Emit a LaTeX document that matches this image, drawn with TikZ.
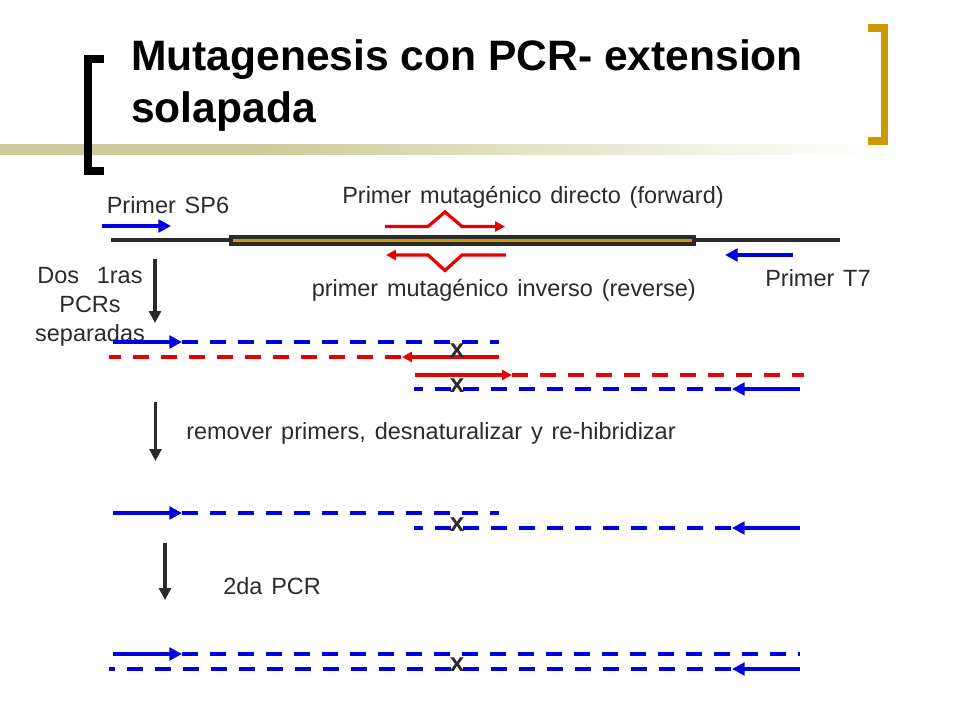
\documentclass[tikz,border=0pt]{standalone}
\usepackage{fontspec}
\setmainfont{Liberation Sans}
\newfontfamily\bodyfont[WordSpace=1.35]{Liberation Sans}
\usepackage{xcolor}
\usetikzlibrary{arrows.meta}
\definecolor{ink}{HTML}{2B2B2B}
\definecolor{gold}{HTML}{CC9900}
\definecolor{olive}{HTML}{CCCC99}
\definecolor{dnablue}{HTML}{0000E0}
\definecolor{dnared}{HTML}{E60000}
\pgfdeclarehorizontalshading{barfade}{100bp}{color(0bp)=(olive); color(40bp)=(olive); color(75bp)=(white); color(100bp)=(white)}
\tikzset{
  tip/.style={-{Triangle[length=8.5pt,width=8.5pt]}},
  bline/.style={draw=dnablue, line width=3pt, -{Triangle[length=9pt,width=9pt]}},
  rline/.style={draw=dnared, line width=2.3pt, -{Triangle[length=7pt,width=7pt]}},
  bdash/.style={draw=dnablue, line width=3pt, dash pattern=on 11.38pt off 8.54pt},
  rdash/.style={draw=dnared, line width=3pt, dash pattern=on 11.38pt off 8.54pt},
  down/.style={draw=ink, line width=2.6pt, tip},
  strand/.style={draw=ink, line width=2.85pt},
  lbl/.style={text=ink, font=\bodyfont\fontsize{16.7}{20}\selectfont, inner sep=0pt, anchor=base west},
  titletext/.style={anchor=base west, inner sep=0pt, font=\fontsize{30.27}{37}\selectfont\bfseries},
  xmark/.style={text=ink, font=\fontsize{18.5}{20}\selectfont\bfseries, inner sep=0pt}
}
\begin{document}
\begin{tikzpicture}[x=0.025cm,y=-0.025cm]
  \fill[white] (0,0) rectangle (960,720);
  \useasboundingbox (0,0) rectangle (960,720);

  \fill[shading=barfade] (0,145) rectangle (870,155);
  \draw[line width=5.5pt] (104,59) -- (88,59) -- (88,171) -- (104,171);
  \draw[gold, line width=5.5pt] (868,28) -- (884.5,28) -- (884.5,141) -- (868,141);

  \node[titletext] (title1) at (131,71) {Mutagenesis con PCR- extension};
  \node[titletext] (title2) at (131,123) {solapada};

  \draw[strand] (111,240) -- (840,240);
  \draw[draw=ink, line width=3pt, fill=gold] (231,237) rectangle (694,244);

  \draw[bline] (102,226) -- (171,226);
  \draw[bline] (793,255) -- (725,255);
  \draw[rline] (385,226.5) -- (428,226.5) -- (445,212) -- (462,226.5) -- (505,226.5);
  \draw[rline] (506,255) -- (462,255) -- (445,270.5) -- (428,255) -- (386,255);

  \node[lbl] (sp6) at (106.5,213.5) {Primer SP6};
  \node[lbl] (fwd) at (342,204) {Primer mutagénico directo (forward)};
  \node[lbl] (rev) at (311.5,296.5) {primer mutagénico inverso (reverse)};
  \node[lbl] (t7) at (765,287) {Primer T7};
  \node[lbl, anchor=base] (dos) at (90,284) {Dos\ \ 1ras};
  \node[lbl, anchor=base] (pcrs) at (90,313) {PCRs};
  \node[lbl, anchor=base] (sep) at (90,342) {separadas};
  \node[lbl] (remover) at (186,440) {remover primers, desnaturalizar y re-hibridizar};
  \node[lbl] (segunda) at (223,595) {2da PCR};

  \draw[down] (155,259) -- (155,323);
  \draw[down] (155.5,402) -- (155.5,461);
  \draw[down] (165,543) -- (165,600);

  \draw[bline] (113,342) -- (182,342);
  \draw[bdash] (182,342) -- (499,342);
  \draw[rdash] (401,357) -- (109,357);
  \draw[rline] (499,357) -- (402,357);
  \draw[rline] (415,375) -- (512,375);
  \draw[rdash] (512,375) -- (804,375);
  \draw[bline] (800,389) -- (732,389);
  \draw[bdash] (731,389) -- (414,389);

  \draw[bline] (113,513) -- (182,513);
  \draw[bdash] (182,513) -- (499,513);
  \draw[bline] (800,528) -- (732,528);
  \draw[bdash] (731,528) -- (414,528);

  \draw[bline] (113,654) -- (182,654);
  \draw[bdash] (182,654) -- (800,654);
  \draw[bline] (800,669) -- (732,669);
  \draw[bdash] (731,669) -- (109,669);

  \node[xmark] (x1) at (457,351) {x};
  \node[xmark] (x2) at (457,385.5) {x};
  \node[xmark] (x3) at (457,525) {x};
  \node[xmark] (x4) at (457,665) {x};
\end{tikzpicture}
\end{document}
